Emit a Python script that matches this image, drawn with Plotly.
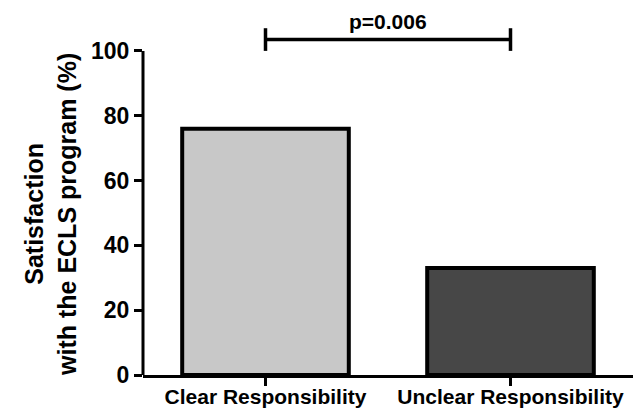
import plotly.graph_objects as go

categories = ["Clear Responsibility", "Unclear Responsibility"]
values = [76, 33]
bar_colors = ["#c8c8c8", "#474747"]
y_ticks = [0, 20, 40, 60, 80, 100]
p_label = "p=0.006"
bracket_y = 103.5
bracket_tick = 3.5

FONT = "Liberation Sans, Arial"

fig = go.Figure()
fig.add_trace(go.Bar(
    x=[0, 1], y=values, width=0.68,
    marker=dict(color=bar_colors, line=dict(color="black", width=4)),
    hoverinfo="skip", showlegend=False,
))
# significance bracket
fig.add_trace(go.Scatter(
    x=[0, 0, None, 0, 1, None, 1, 1],
    y=[bracket_y - bracket_tick, bracket_y + bracket_tick, None,
       bracket_y, bracket_y, None,
       bracket_y - bracket_tick, bracket_y + bracket_tick],
    mode="lines", line=dict(color="black", width=3.5),
    hoverinfo="skip", showlegend=False,
))
fig.add_annotation(x=0.5, y=bracket_y + 1.5, xref="x", yref="y", text=p_label,
                   showarrow=False, yanchor="bottom",
                   font=dict(family=FONT, size=21, color="black", weight="bold"))
# y axis line from 0 to 100
fig.add_shape(type="line", xref="paper", yref="y", x0=0, x1=0, y0=0, y1=y_ticks[-1],
              line=dict(color="black", width=3))
fig.add_annotation(x=(50 - 143) / 490, y=(411 - 216 - 35) / 363, xref="paper", yref="paper",
                   xanchor="center", yanchor="middle", showarrow=False,
                   text="Satisfaction<br>with the ECLS program (%)", textangle=-90,
                   font=dict(family=FONT, size=25, color="black", weight="bold"))

fig.update_layout(
    width=640, height=411,
    margin=dict(l=143, r=7, t=12, b=36),
    plot_bgcolor="white", paper_bgcolor="white",
    font=dict(family=FONT, color="black"),
    xaxis=dict(range=[-0.5, 1.5], tickvals=[0, 1], ticktext=categories,
               showline=True, linecolor="black", linewidth=3,
               ticks="outside", ticklen=8, tickwidth=3, tickcolor="black",
               ticklabelstandoff=-7,
               showgrid=False, zeroline=False, automargin=False,
               tickfont=dict(size=21, color="black", weight="bold")),
    yaxis=dict(range=[0, 112], tickvals=y_ticks, showline=False,
               ticks="outside", ticklen=8, tickwidth=3, tickcolor="black",
               showgrid=False, zeroline=False, automargin=False,
               tickfont=dict(size=23, color="black", weight="bold")),
)

fig.write_html("out.html")
